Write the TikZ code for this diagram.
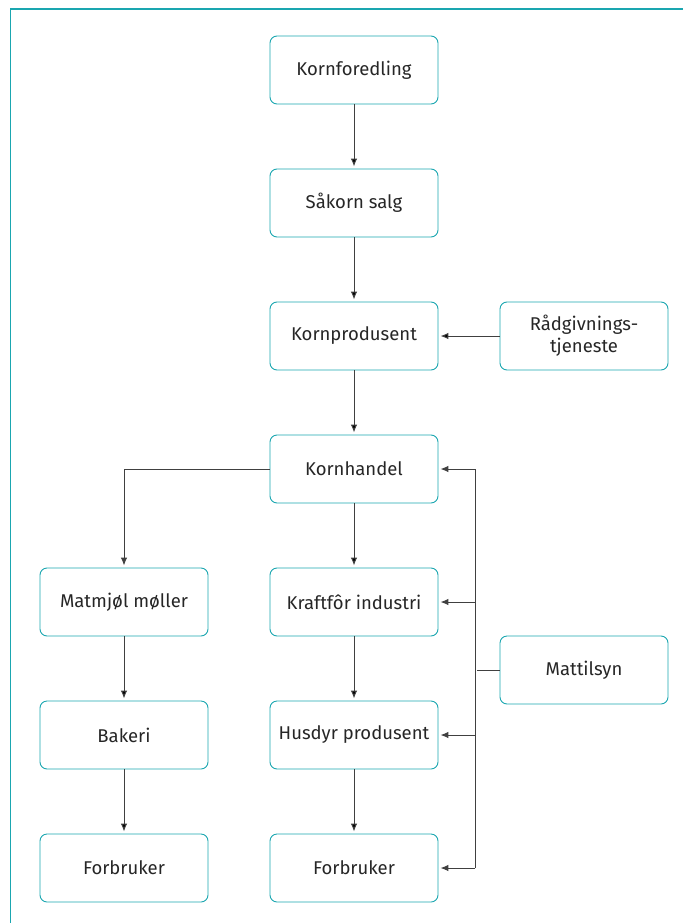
\documentclass[tikz,border=0pt]{standalone}
\usepackage{fontspec}
\setmainfont{Fira Sans}
\usetikzlibrary{shapes,arrows.meta,calc,positioning}
\definecolor{frameteal}{HTML}{1AA6B0}

\begin{document}
\begin{tikzpicture}[node distance=133pt and 230pt, on grid, x=1pt, y=1pt,
    >={Latex[length=8pt,width=6.5pt]}, shorten >=2pt,
    box/.style={draw=frameteal, line width=0.9pt, rounded corners=7pt, minimum width=168pt,
      minimum height=68pt, align=center, text=black!85, font=\fontsize{18.5}{22}\selectfont},
    link/.style={draw=black!75, line width=1pt}]
  \useasboundingbox (0,0) rectangle (685,-923);
  \draw[frameteal, line width=1.6pt] (10.5,-923) -- (10.5,-9) -- (685,-9);

  \node[box] (kf) at (354,-70) {Kornforedling};
  \node[box] (salg) [below=of kf] {Såkorn salg};
  \node[box] (prod) [below=of salg] {Kornprodusent};
  \node[box] (rad) [right=of prod] {Rådgivnings-\\tjeneste};
  \node[box] (handel) [below=of prod] {Kornhandel};
  \node[box] (kraft) [below=of handel] {Kraftfôr industri};
  \node[box] (matmj) [left=of kraft] {Matmjøl møller};
  \node[box] (husdyr) [below=of kraft] {Husdyr produsent};
  \node[box] (bakeri) [below=of matmj] {Bakeri};
  \node[box] (forbA) [below=of bakeri] {Forbruker};
  \node[box] (forbB) [below=of husdyr] {Forbruker};
  \node[box] (mattil) at ($(kraft)!0.5!(husdyr)+(230,-1.5)$) {Mattilsyn};
  \coordinate (bus) at ($(handel.east)+(37,0)$);

  \path[link,->]
    (kf) edge (salg)
    (salg) edge (prod)
    (rad) edge (prod)
    (prod) edge (handel)
    (handel) edge (kraft)
    (kraft) edge (husdyr)
    (husdyr) edge (forbB)
    (matmj) edge (bakeri)
    (bakeri) edge (forbA);
  \draw[link,->] (handel.west) -| (matmj.north);

  % Mattilsyn bus
  \draw[link] (mattil.west) -- (bus |- mattil.west);
  \draw[link,shorten >=0pt] (bus |- handel.east) -- (bus |- forbB.east);
  \foreach \n in {handel,kraft,husdyr,forbB}
    \draw[link,->] (bus |- \n.east) -- (\n.east);
\end{tikzpicture}
\end{document}
